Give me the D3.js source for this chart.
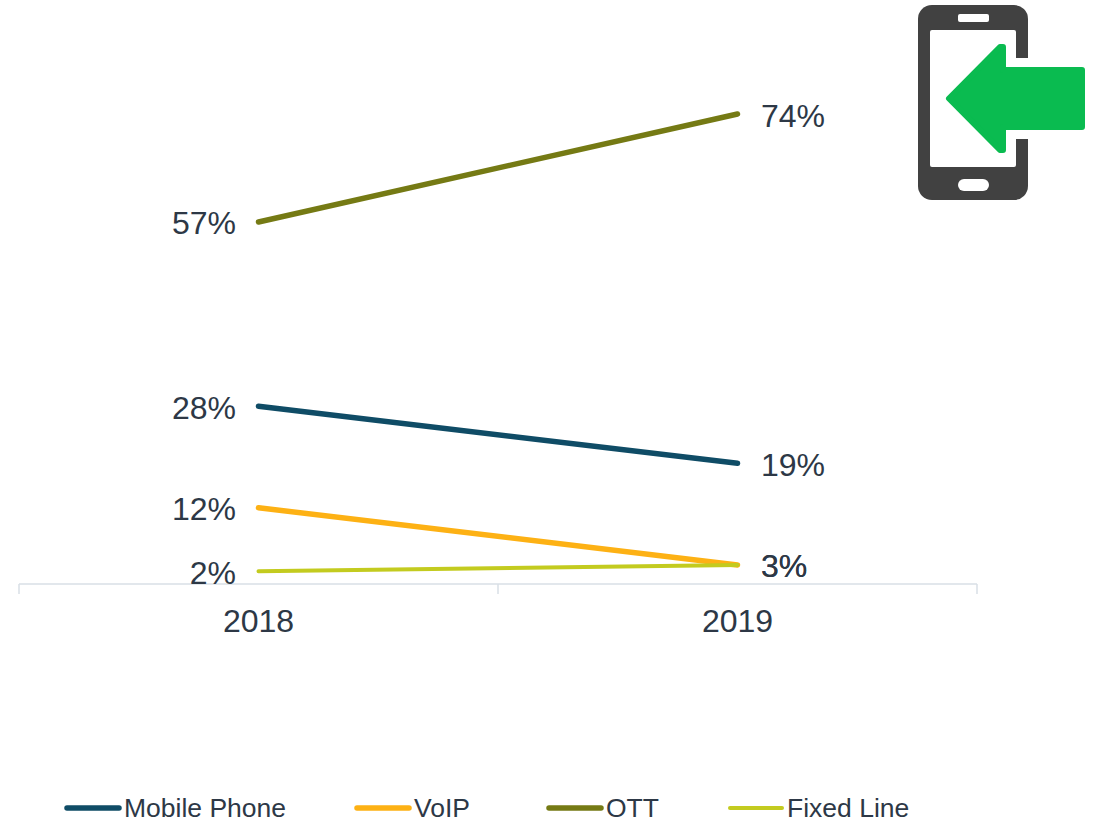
<!DOCTYPE html>
<html>
<head>
    <script type="text/javascript" src="https://cdn.jsdelivr.net/npm/d3@7"></script>
    <style>
    html, body {
        padding: 0;
        margin: 0;
        background: #fff;
    }
    svg { display: block; }
    text { font-family: "Liberation Sans", Arial, sans-serif; fill: #2d3846; }
    </style>
</head>
<body>
    <div id="viz"></div>
    <script type="text/javascript">

    var years = ["2018", "2019"];
    var seriesNames = ["Mobile Phone", "VoIP", "OTT", "Fixed Line"];
    var mobilePhone = [28, 19];
    var voip = [12, 3];
    var ott = [57, 74];
    var fixedLine = [2, 3];
    var seriesValues = [mobilePhone, voip, ott, fixedLine];
    var seriesColors = ["#0f4c66", "#fdb114", "#757a14", "#c3cb1f"];
    var seriesWidths = [5.5, 5.5, 5.5, 4];

    var svg = d3.select("#viz").append("svg")
      .attr("width", 1102)
      .attr("height", 829);

    var x = d3.scaleBand().domain(years).range([19, 977]);
    var y = d3.scaleLinear().domain([0, 74]).range([584, 114]);

    // axis: light line with outer ticks and a divider between the two bands
    var axisColor = "#d9dfe6";
    svg.append("line")
      .attr("x1", x.range()[0]).attr("x2", x.range()[1])
      .attr("y1", y(0)).attr("y2", y(0))
      .attr("stroke", axisColor).attr("stroke-width", 1.5);

    svg.selectAll("line.tick")
      .data([x.range()[0], x("2019"), x.range()[1]])
      .enter().append("line")
      .attr("class", "tick")
      .attr("x1", function(d) { return d; }).attr("x2", function(d) { return d; })
      .attr("y1", y(0)).attr("y2", y(0) + 10)
      .attr("stroke", axisColor).attr("stroke-width", 1.5);

    svg.selectAll("text.year")
      .data(years)
      .enter().append("text")
      .attr("class", "year")
      .attr("x", function(d) { return x(d) + x.bandwidth() / 2; })
      .attr("y", 632)
      .attr("text-anchor", "middle")
      .attr("font-size", 32)
      .text(function(d) { return d; });

    var line = d3.line()
      .x(function(d, i) { return x(years[i]) + x.bandwidth() / 2; })
      .y(function(d) { return y(d); });

    svg.selectAll("path.series")
      .data(seriesValues)
      .enter().append("path")
      .attr("class", "series")
      .attr("d", line)
      .attr("fill", "none")
      .attr("stroke", function(d, i) { return seriesColors[i]; })
      .attr("stroke-width", function(d, i) { return seriesWidths[i]; })
      .attr("stroke-linecap", "round");

    // data labels, left of 2018 and right of 2019
    seriesValues.forEach(function(values) {
      svg.append("text")
        .attr("x", 236)
        .attr("y", y(values[0]) + 12.5)
        .attr("text-anchor", "end")
        .attr("font-size", 32)
        .text(values[0] + "%");
      svg.append("text")
        .attr("x", 761)
        .attr("y", y(values[1]) + 12.5)
        .attr("font-size", 32)
        .text(values[1] + "%");
    });

    // legend
    var legendX = [65, 355, 547, 728];
    var legend = svg.selectAll("g.legend")
      .data(seriesNames)
      .enter().append("g")
      .attr("class", "legend")
      .attr("transform", function(d, i) { return "translate(" + legendX[i] + ",808)"; });

    legend.append("line")
      .attr("x1", 2).attr("x2", 54)
      .attr("stroke", function(d, i) { return seriesColors[i]; })
      .attr("stroke-width", function(d, i) { return seriesWidths[i]; })
      .attr("stroke-linecap", "round");

    legend.append("text")
      .attr("x", 59)
      .attr("y", 9)
      .attr("font-size", 26.5)
      .text(function(d) { return d; });

    // phone icon with the green arrow
    var icon = svg.append("g").attr("transform", "translate(918,5)");
    icon.append("rect")
      .attr("width", 110).attr("height", 195).attr("rx", 14)
      .attr("fill", "#414141");
    icon.append("rect")
      .attr("x", 12).attr("y", 25).attr("width", 86).attr("height", 137).attr("rx", 2)
      .attr("fill", "#fff");
    icon.append("rect")
      .attr("x", 40).attr("y", 9).attr("width", 31).attr("height", 8).attr("rx", 2)
      .attr("fill", "#fff");
    icon.append("rect")
      .attr("x", 40).attr("y", 174).attr("width", 31).attr("height", 12).attr("rx", 6)
      .attr("fill", "#fff");
    icon.append("rect")
      .attr("x", 96).attr("y", 53).attr("width", 16).attr("height", 81)
      .attr("fill", "#fff");
    icon.append("path")
      .attr("d", "M31 93.5 L82 42 L85 42 L85 65 L164 65 L164 122 L85 122 L85 145 L82 145 Z")
      .attr("fill", "#0abb50")
      .attr("stroke", "#0abb50")
      .attr("stroke-width", 6)
      .attr("stroke-linejoin", "round");

    </script>
</body>
</html>
